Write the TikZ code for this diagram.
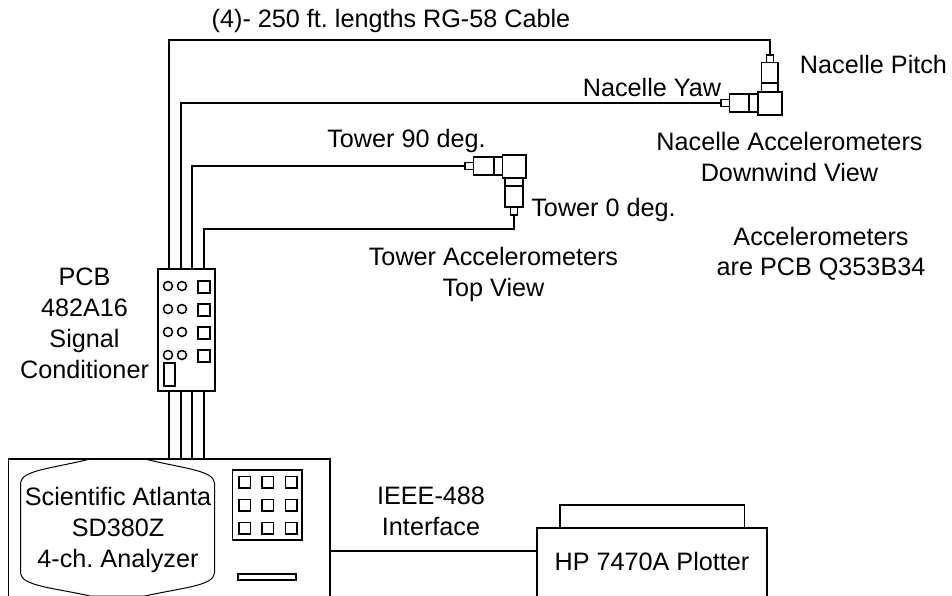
\documentclass[tikz,border=0pt]{standalone}
\usepackage{fontspec}
\setmainfont{Liberation Sans}
\usepackage{tikz}

\begin{document}
\frenchspacing
\begin{tikzpicture}[
    x=1pt, y=-1pt,
    box/.style={draw, line width=1.5pt, inner sep=0pt, outer sep=0pt},
    knob/.style={draw, circle, line width=1.5pt, inner sep=0pt, minimum size=9pt, outer sep=0pt},
    key/.style={box, minimum width=12pt, minimum height=12pt},
    keypad/.style={box, minimum width=11.5pt, minimum height=11.5pt},
    plug/.style={box, line width=1.2pt},
    wire/.style={line width=1.5pt},
    lbl/.style={font=\fontsize{25.2}{30.7}\selectfont, align=center, inner sep=0pt},
    single/.style={lbl, anchor=base}
]
\clip (0,0) rectangle (952,596);
\fill[white] (0,0) rectangle (952,596);

% analyzer and plotter
\node[box, minimum width=321.5pt, minimum height=150pt] (analyzer) at (169.25,534) {};
\node[box, minimum width=230pt, minimum height=80pt] (plotter) at (652,568) {};
\node[box, minimum width=184.5pt, minimum height=23pt] (tray) at (652,516.5) {};
\draw[line width=1pt] (20.5,483) .. controls (21,470) and (55,468) .. (90,459) -- (145,459) .. controls (180,468) and (214,470) .. (214.5,483) -- (214.5,573) .. controls (214,586) and (180,588) .. (145,596) -- (90,596) .. controls (55,588) and (21,586) .. (20.5,573) -- cycle;
\node[box, minimum width=69.5pt, minimum height=70pt] (keys) at (267.25,505) {};
\foreach \i/\x in {1/244.5, 2/267.5, 3/291} {
  \foreach \j/\y in {1/482, 2/505, 3/528} {
    \node[keypad] (key\i\j) at (\x,\y) {};
  }
}
\node[box, minimum width=58pt, minimum height=6pt] (slot) at (267,577) {};

% signal conditioner
\node[box, minimum width=57pt, minimum height=122pt] (cond) at (186.5,330) {};
\foreach \n/\y/\k in {1/286/287, 2/309/310, 3/332/333, 4/355/356} {
  \node[knob] (knoba\n) at (168,\y) {};
  \node[knob] (knobb\n) at (182,\y) {};
  \node[key] (sw\n) at (204,\k) {};
}
\node[box, minimum width=11pt, minimum height=23pt] (meter) at (169.5,374.5) {};

% nacelle accelerometers
\node[box, minimum width=24pt, minimum height=23pt] (nacblock) at (770,103.5) {};
\node[box, minimum width=16.5pt, minimum height=29.5pt] (pitchbody) at (769.75,77.25) {};
\node[box, minimum width=28.5pt, minimum height=18pt] (yawbody) at (743.75,103) {};
\node[plug, minimum width=6.5pt, minimum height=7.5pt] (pitchplug) at (770,58.75) {};
\node[plug, minimum width=8.5pt, minimum height=6.5pt] (yawplug) at (725.25,103) {};
\draw[plug] (pitchbody.west |- 0,83) -- (pitchbody.east |- 0,83);
\draw[plug] (749,0 |- yawbody.north) -- (749,0 |- yawbody.south);

% tower accelerometers
\node[box, minimum width=23.5pt, minimum height=23pt] (towblock) at (514.25,166.5) {};
\node[box, minimum width=29pt, minimum height=18pt] (ninebody) at (488,166) {};
\node[box, minimum width=18pt, minimum height=29pt] (zerobody) at (514,192.5) {};
\node[plug, minimum width=8.5pt, minimum height=6.5pt] (nineplug) at (469.25,166) {};
\node[plug, minimum width=6.5pt, minimum height=8pt] (zeroplug) at (514,211) {};
\draw[plug] (494,0 |- ninebody.north) -- (494,0 |- ninebody.south);
\draw[plug] (zerobody.west |- 0,186) -- (zerobody.east |- 0,186);

% cables
\coordinate (conda) at (169,269);
\coordinate (condb) at (181,269);
\coordinate (condc) at (192,269);
\coordinate (condd) at (204,269);
\coordinate (benda) at (169,40);
\coordinate (bendd) at (204,229);
\draw[wire, line width=1.8pt] (pitchplug.north) |- (benda) -- (conda);
\draw[wire] (yawplug.west) -| (condb);
\draw[wire] (nineplug.west) -| (condc);
\draw[wire] (zeroplug.south) |- (bendd) -- (condd);
\foreach \x in {169, 181, 192, 204} {
  \coordinate (lower\x) at (\x,391);
  \coordinate (upper\x) at (\x,459);
  \draw[wire] (lower\x) -- (upper\x);
}
\draw[wire] (analyzer.east |- 0,551) -- (plotter.west |- 0,551);

% labels
\node[single] (cablelbl) at (391,28) {(4)- 250 ft. lengths RG-58 Cable};
\node[single] (pitchlbl) at (873.5,74) {Nacelle Pitch};
\node[single] (yawlbl) at (652,96.7) {Nacelle Yaw};
\node[lbl] (nacview) at (789.5,157) {Nacelle Accelerometers\\Downwind View};
\node[single] (ninelbl) at (406.5,148) {Tower 90 deg.};
\node[single] (zerolbl) at (603.5,216.7) {Tower 0 deg.};
\node[lbl] (towview) at (493.5,274.5) {Tower Accelerometers\\Top View};
\node[lbl] (acclbl) at (821,253.8) {Accelerometers\\are PCB Q353B34};
\node[lbl, font=\fontsize{25.2}{31}\selectfont] (condlbl) at (84.5,323.3) {PCB\\482A16\\Signal\\Conditioner};
\node[lbl, font=\fontsize{25.2}{31}\selectfont] (anlbl) at (118,529.5) {Scientific Atlanta\\SD380Z\\4-ch. Analyzer};
\node[lbl] (ieeelbl) at (431,511.5) {IEEE-488\\Interface};
\node[single] (plotlbl) at (652,570) {HP 7470A Plotter};
\end{tikzpicture}
\end{document}
